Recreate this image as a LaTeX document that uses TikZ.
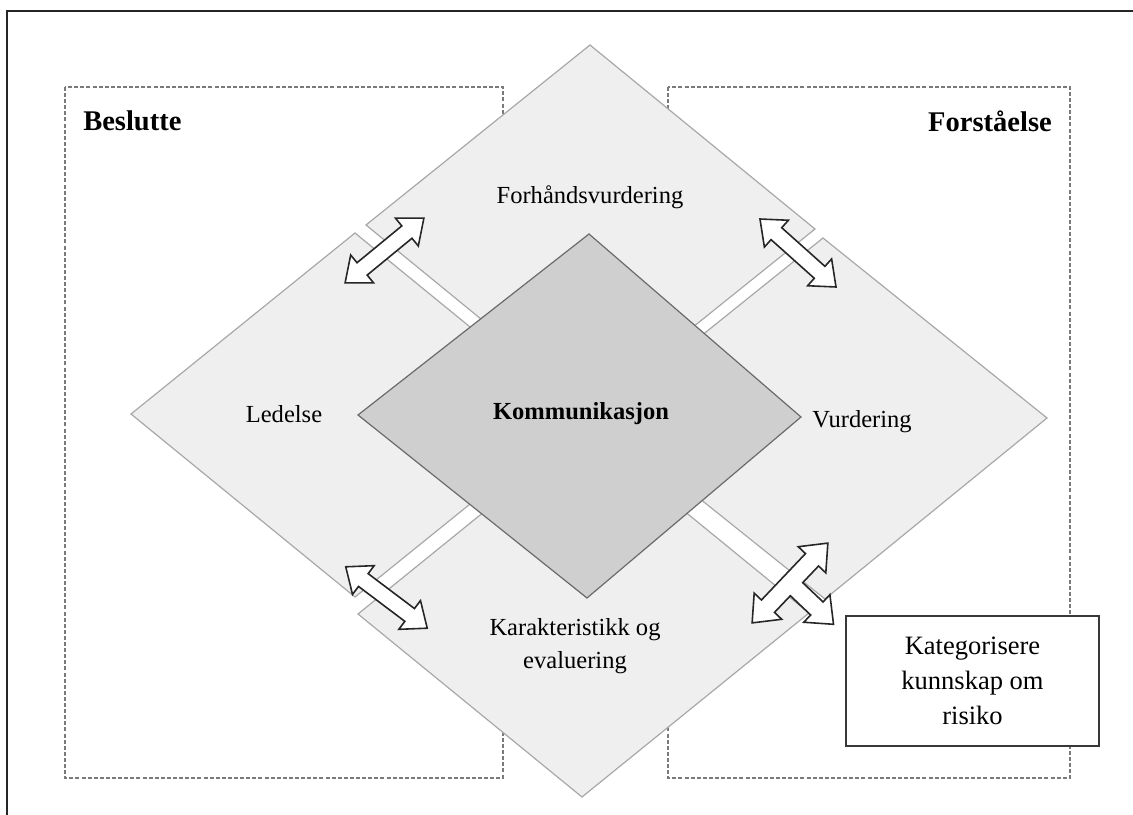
\documentclass[tikz,border=0pt]{standalone}
\usepackage{fontspec}
\setmainfont{Liberation Serif}
\definecolor{piecefill}{HTML}{EFEFEF}
\definecolor{pieceedge}{HTML}{A8A8A8}
\definecolor{corefill}{HTML}{CFCFCF}
\definecolor{coreedge}{HTML}{6A6A6A}
\definecolor{zoneedge}{HTML}{7A7A7A}
\begin{document}
\begin{tikzpicture}[x=0.0265cm,y=-0.0265cm,
  frame/.style={draw=black!85,line width=1.4pt},
  zone/.style={draw=zoneedge,line width=0.8pt,dash pattern=on 3pt off 1.6pt},
  piece/.style={fill=piecefill,draw=pieceedge,line width=0.9pt,line join=miter},
  core/.style={fill=corefill,draw=coreedge,line width=0.9pt,line join=miter},
  blockarrow/.style={fill=white,draw=black!85,line width=1.2pt,line join=miter},
  lbl/.style={inner sep=0pt,font=\fontsize{18.5}{24}\selectfont},
  head/.style={inner sep=0pt,font=\fontsize{21.5}{26}\selectfont\bfseries},
  catbox/.style={draw=black!78,line width=2pt,fill=white,inner sep=0pt,align=center,
    font=\fontsize{20}{26.3}\selectfont},
  pics/dblarrow/.style={code={
    \draw[blockarrow] (-#1,0) -- (-#1+22,18) -- (-#1+22,8) -- (#1-22,8) -- (#1-22,18)
      -- (#1,0) -- (#1-22,-18) -- (#1-22,-8) -- (-#1+22,-8) -- (-#1+22,-18) -- cycle;
  }},
  pics/tarrow/.style args={#1/#2}{code={
    \draw[blockarrow] (-#1,0) -- (-#1+23,-19) -- (-#1+23,-9) -- (#1-23,-9) -- (#1-23,-19)
      -- (#1,0) -- (#1-23,19) -- (#1-23,9) -- (9,9) -- (9,#2-23) -- (19,#2-23)
      -- (0,#2) -- (-19,#2-23) -- (-9,#2-23) -- (-9,9) -- (-#1+23,9) -- (-#1+23,19) -- cycle;
  }}]
\useasboundingbox (0,0) rectangle (1133,815);
\clip (0,0) rectangle (1133,815);

% outer frame
\draw[frame] (7,11) rectangle (1160,840);

% the two zones behind the diamond
\draw[zone] (65,87) rectangle (503,778);
\draw[zone] (668,87) rectangle (1070,778);
\node[head,anchor=west] (beslutte) at (83,121) {Beslutte};
\node[head,anchor=east] (forstaaelse) at (1052,121) {Forståelse};

% four quarters of the outer diamond
\draw[piece] (590,45) -- (815,229) -- (591,409) -- (366,225) -- cycle;
\draw[piece] (131,414) -- (355,233) -- (579,416) -- (355,597) -- cycle;
\draw[piece] (1047,418) -- (823,238) -- (599,418) -- (825,599) -- cycle;
\draw[piece] (582,797) -- (358,614) -- (585,430) -- (809,613) -- cycle;

% central diamond
\draw[core] (358,415) -- (589,234) -- (801,417) -- (587,598) -- cycle;

% labels
\node[lbl] (forh) at (590,197) {Forhåndsvurdering};
\node[lbl] (ledelse) at (284,414) {Ledelse};
\node[lbl,font=\fontsize{18.5}{24}\selectfont\bfseries] (komm) at (581,414) {Kommunikasjon};
\node[lbl] (vurd) at (862,422) {Vurdering};
\node[lbl,align=center,font=\fontsize{18.5}{25}\selectfont] (kar) at (575,646) {Karakteristikk og\\evaluering};

% exchange arrows between the quarters
\pic[rotate=39.4] at (384.5,250.5) {dblarrow=51};
\pic[rotate=-41.8] at (798,253) {dblarrow=51};
\pic[rotate=-37] at (386.5,597.5) {dblarrow=51};
\pic[rotate=46.5] at (790,583) {tarrow=55/60};

% category box
\node[catbox,minimum width=253*0.0265cm,minimum height=130*0.0265cm] (kat) at (972.5,681)
  {Kategorisere\\kunnskap om\\risiko};
\end{tikzpicture}
\end{document}
